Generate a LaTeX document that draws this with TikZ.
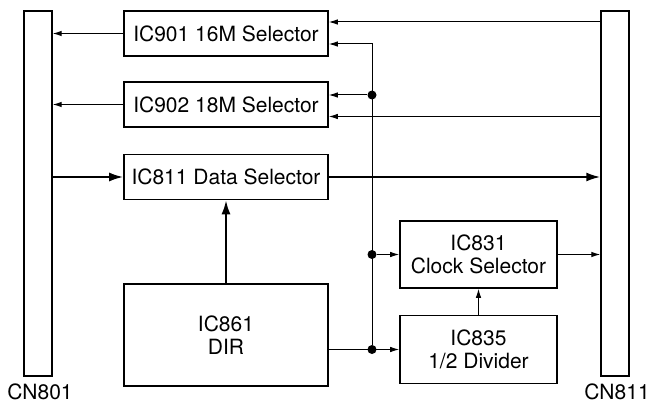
\documentclass[tikz,border=0pt]{standalone}
\usepackage{fontspec}
\setmainfont{TeX Gyre Heros}
\usetikzlibrary{arrows.meta}
\begin{document}
\begin{tikzpicture}[x=1pt, y=-1pt, >={Latex[length=9pt,width=5.5pt]}]
    % gaya simpul
    \tikzstyle{chip}=[rectangle,draw,line width=1.6pt,minimum width=204pt,inner sep=0pt,align=center,font=\fontsize{21}{23.5}\selectfont]
    \tikzstyle{bar}=[rectangle,draw,line width=1.4pt,minimum width=28pt,minimum height=365pt,inner sep=0pt]
    \tikzstyle{tag}=[inner sep=0pt,font=\fontsize{21}{23.5}\selectfont]
    \tikzstyle{dot}=[circle,fill,minimum size=9pt,inner sep=0pt]
    \tikzstyle{wire}=[->,line width=1pt]
    \tikzstyle{bus}=[-{Latex[length=14pt,width=9pt]},line width=2pt]

    \useasboundingbox (0,0) rectangle (649,404);

    % posisi simpul
    \node[bar] (cn801) at (38,193.5) {};
    \node[bar] (cn811) at (615,193.5) {};
    \node[tag] (l801) at (40,392) {CN801};
    \node[tag] (l811) at (617,392) {CN811};
    \node[chip,minimum height=45pt] (ic901) at (226,33.5) {IC901 16M Selector};
    \node[chip,minimum height=45pt] (ic902) at (226,104.5) {IC902 18M Selector};
    \node[chip,minimum height=45pt] (ic811) at (226,177) {IC811 Data Selector};
    \node[chip,minimum height=102pt] (ic861) at (226,335) {IC861\\DIR};
    \node[chip,minimum width=157pt,minimum height=67pt] (ic831) at (478.5,254.5) {IC831\\Clock Selector};
    \node[chip,minimum width=157pt,minimum height=68pt] (ic835) at (478.5,349.5) {IC835\\1/2 Divider};
    \node[dot] (d1) at (372,95) {};
    \node[dot] (d2) at (372,254.5) {};
    \node[dot] (d3) at (372,349.5) {};
    \coordinate (a1) at ([yshift=11.5pt]ic901.east);
    \coordinate (a2) at ([yshift=-10.5pt]ic901.east);
    \coordinate (b2) at ([yshift=-12pt]ic902.east);

    % panah (relasi)
    \draw[wire] (a1 -| cn811.west) -- (a1);              % CN811 -> IC901
    \draw[wire] (d3) -- (a2 -| d1) -- (a2);              % jalur -> IC901
    \draw[wire] (d1) -- (d1 -| ic902.east);              % jalur -> IC902
    \draw[wire] (b2 -| cn811.west) -- (b2);              % CN811 -> IC902
    \draw[wire] (ic901.west) -- (ic901.west -| cn801.east); % IC901 -> CN801
    \draw[wire] (ic902.west) -- (ic902.west -| cn801.east); % IC902 -> CN801
    \draw[bus] (ic811.west -| cn801.east) -- (ic811.west);  % CN801 -> IC811
    \draw[bus] (ic811.east) -- (ic811.east -| cn811.west);  % IC811 -> CN811
    \draw[bus] (ic861.north) -- (ic811.south);           % IC861 -> IC811
    \draw[wire] (ic861.east |- d3) -- (ic835.west);      % IC861 -> IC835
    \draw[wire] (d2) -- (ic831.west);                    % jalur -> IC831
    \draw[wire] (ic835.north) -- (ic831.south);          % IC835 -> IC831
    \draw[wire] (ic831.east) -- (ic831.east -| cn811.west); % IC831 -> CN811
\end{tikzpicture}
\end{document}
